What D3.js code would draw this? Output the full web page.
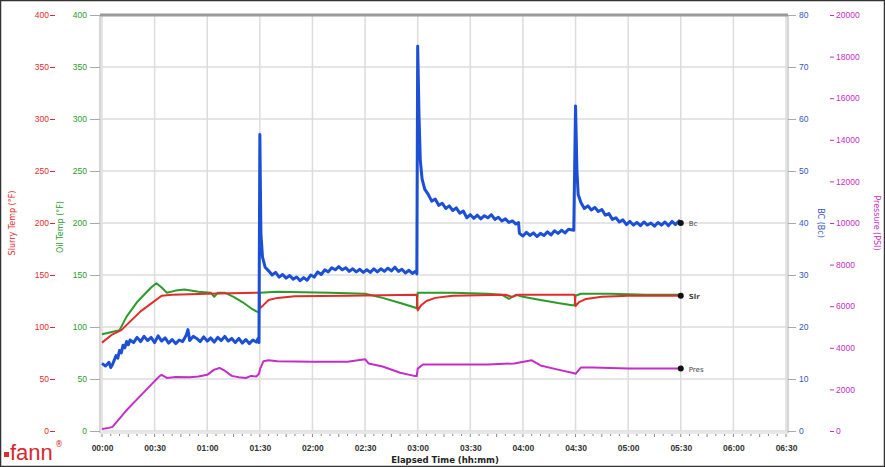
<!DOCTYPE html>
<html>
<head>
<meta charset="utf-8">
<script src="https://cdn.jsdelivr.net/npm/d3@7"></script>
<style>
  html, body { margin: 0; padding: 0; background: #fff; }
  svg { display: block; font-family: "DejaVu Sans", sans-serif; }
</style>
</head>
<body>
<div id="chart"></div>
<script>
// Data (minutes from start)
const bcTime = [0,2,4,5,6,8,9,10,11,12,13,14,15,16,18,20,22,24,26,28,30,32,34,36,38,40,42,44,46,48,49,50,52,54,56,58,60,62,64,66,68,70,72,74,76,78,80,82,84,86,88,89,89.5,
  90,90.6,91.5,93,95,97,99,101,103,105,107,109,111,113,115,117,119,121,123,125,127,129,131,133,135,137,139,141,143,145,147,149,151,153,155,157,159,161,163,165,167,169,171,173,175,177,179,179.5,
  180,180.8,181.5,182.5,184,186,188,190,192,194,196,198,200,202,204,206,208,210,212,214,216,218,220,222,224,226,228,230,232,234,236,237.5,238,240,242,244,246,248,250,252,254,256,258,260,262,264,266,269,
  270,270.8,271.5,273,275,277,279,281,283,285,287,289,291,293,295,297,299,301,303,305,307,309,311,313,315,317,319,321,323,325,327,329,330];
const bcValues = [13,12.5,13.2,12.2,12.8,14.5,14,15.5,15,16.5,16,17.2,16.6,17.5,17,18,17.2,18.2,17.4,18,17,18.3,17.3,17.9,16.9,17.6,16.8,17.5,17.2,18.4,19.5,17.4,18.2,17.8,17.2,18.1,17.3,17.9,17.1,18,17.4,18.2,17.3,17.8,17,17.8,16.9,17.6,16.8,17.5,17.1,17.8,17,
  57,38,33.5,31.5,30.8,30,30.5,29.6,30.1,29.4,29.9,29.2,29.6,28.9,29.5,29,30,29.6,30.6,30.1,31,30.6,31.4,31,31.6,31,31.4,30.7,31.2,30.6,31.1,30.5,31,30.5,31.2,30.6,31.2,30.7,31.3,30.8,31.5,30.7,31.1,30.4,30.9,30.3,30.8,30.2,
  74,60,52,48.5,46.5,45.5,44.2,44.6,43.4,43.8,42.8,43.3,42.4,42.9,41.9,42.3,41,41.6,40.9,41.5,40.8,41.4,41,41.6,40.7,41.1,40.4,40.8,40.1,40.4,39.8,40.1,38,37.5,38.2,37.6,38.1,37.4,38,37.6,38.3,37.7,38.5,38,38.6,38.1,38.8,38.6,
  62.5,50,45.5,44,42.8,43.3,42.5,43,42.2,42.6,41.5,41.8,40.7,41,40.2,40.6,39.7,40.3,39.6,40.1,39.5,40.2,39.6,40,39.4,40.1,39.6,40.2,39.5,40.3,39.7,40.4,40];

const slurryTime = [0,6,11,22,34,40,60,89.5,90,92,95,100,110,140,179.5,180,182,185,190,200,230,234,237,269.5,270,272,276,285,300,330];
const slurryValues = [85,93,97,115,130,131,132,133,118,121,126,128,129.5,130,131,116,121,125,128,130,131,129,131,131,120,124,127,129,130,130];

const oilTime = [0,5,10,14,20,28,31,34,37,42,47,55,62,64,66,70,75,80,85,88,89.5,90,100,130,150,155,160,170,178,179.5,180,200,220,228,232,236,240,250,260,268,269.5,270,273,290,310,330];
const oilValues = [93,95,97,110,124,138,142,138,133,135,136,134,133,129,133,133,129,124,118,115,114,133,134,133,132,130,128,123,119,118,133,133,132,131,127,131,129,126,123,121,121,130,132,132,131,131];

const presTime = [0,4,6,8,10,14,18,22,26,30,33,34,37,42,50,55,60,64,67,70,74,78,82,85,88,89.5,90,92,95,100,120,140,150,152,160,170,178,179.5,180,183,190,220,235,245,250,260,268,270,273,280,300,330];
const presValues = [100,150,200,400,600,1000,1350,1700,2050,2400,2650,2700,2550,2600,2580,2620,2700,2950,3030,2900,2650,2580,2550,2650,2620,2750,2950,3350,3400,3350,3330,3330,3450,3250,3100,2800,2650,2650,3000,3200,3200,3200,3250,3400,3150,2950,2800,2750,3050,3050,3000,3000];

const timeTicks = d3.range(0, 391, 30);
const tempTicks = d3.range(0, 401, 50);
const bcTicks = d3.range(0, 81, 10);
const presTicks = d3.range(0, 20001, 2000);

const endLabels = ["Bc", "Slr", "Pres"];

// Layout
const W = 885, H = 467;
const plot = { left: 102, right: 786, top: 15, bottom: 431 };

const colors = { slurry: "#e32b2b", oil: "#2b9a2b", bc: "#1a4fd6", pres: "#c42ec4", grid: "#dcdcdc", text: "#333" };

const svg = d3.select("#chart").append("svg")
  .attr("width", W)
  .attr("height", H);

svg.append("rect").attr("width", W).attr("height", H).style("fill", "#fff");

// Scales
const x = d3.scaleLinear().domain([0, 390]).range([plot.left, plot.right]);
const yTemp = d3.scaleLinear().domain([0, 400]).range([plot.bottom, plot.top]);
const yBc = d3.scaleLinear().domain([0, 80]).range([plot.bottom, plot.top]);
const yPres = d3.scaleLinear().domain([0, 20000]).range([plot.bottom, plot.top]);

// Grid
const grid = svg.append("g");
grid.selectAll("line.v").data(timeTicks).join("line")
  .attr("x1", d => x(d)).attr("x2", d => x(d))
  .attr("y1", plot.top).attr("y2", plot.bottom)
  .style("stroke", colors.grid).style("stroke-width", 1.5);
grid.selectAll("line.h").data(tempTicks).join("line")
  .attr("x1", plot.left).attr("x2", plot.right + 2)
  .attr("y1", d => yTemp(d)).attr("y2", d => yTemp(d))
  .style("stroke", colors.grid).style("stroke-width", 1.5);

// Axis lines
svg.append("line").attr("x1", plot.left - 2).attr("x2", plot.left - 2)
  .attr("y1", plot.top).attr("y2", plot.bottom + 2).style("stroke", "#c8c8c8").style("stroke-width", 1.5);
svg.append("line").attr("x1", plot.right + 2).attr("x2", plot.right + 2)
  .attr("y1", plot.top).attr("y2", plot.bottom + 2).style("stroke", "#c8c8c8").style("stroke-width", 1.5);
svg.append("line").attr("x1", plot.left - 2).attr("x2", plot.right + 2)
  .attr("y1", plot.bottom + 2).attr("y2", plot.bottom + 2).style("stroke", "#d0d0d0").style("stroke-width", 1);
// Grey top band
svg.append("line").attr("x1", plot.left - 2).attr("x2", plot.right + 2)
  .attr("y1", plot.top).attr("y2", plot.top).style("stroke", "#9a9a9a").style("stroke-width", 3);

// X axis
const fmtTime = m => d3.format("02")(Math.floor(m / 60)) + ":" + d3.format("02")(m % 60);
const xAxis = svg.append("g")
  .attr("transform", `translate(0,${plot.bottom + 2})`)
  .call(d3.axisBottom(x).tickValues(timeTicks).tickFormat(fmtTime).tickSize(0).tickPadding(12));
xAxis.select(".domain").remove();
xAxis.selectAll("text").style("font-size", "8.5px").style("font-weight", "bold").style("fill", colors.text);
svg.append("g").selectAll("line").data(d3.range(0, 391, 5)).join("line")
  .attr("x1", d => x(d)).attr("x2", d => x(d))
  .attr("y1", plot.bottom + 3).attr("y2", d => plot.bottom + (d % 15 === 0 ? 6 : 5))
  .style("stroke", "#888").style("stroke-width", 1);
svg.append("text").attr("x", 445).attr("y", 463).attr("text-anchor", "middle")
  .style("font-size", "8.5px").style("font-weight", "bold").style("fill", "#222")
  .text("Elapsed Time (hh:mm)");

// Left axes
function styleAxis(g, color) {
  g.select(".domain").remove();
  g.selectAll("text").style("font-size", "8.5px").style("fill", color);
  g.selectAll("line").style("stroke", color);
}
const redAxis = svg.append("g").attr("transform", "translate(52,0)")
  .call(d3.axisLeft(yTemp).tickValues(tempTicks).tickSize(-5).tickPadding(12));
styleAxis(redAxis, colors.slurry);
redAxis.selectAll("text").attr("x", -3);
redAxis.selectAll("line").attr("x2", -2).attr("x1", 3);

const greenAxis = svg.append("g").attr("transform", `translate(${plot.left - 2},0)`)
  .call(d3.axisLeft(yTemp).tickValues(tempTicks).tickSize(10).tickPadding(3));
styleAxis(greenAxis, colors.oil);
greenAxis.selectAll("line").style("stroke", "#aaa");

svg.append("text").attr("transform", `translate(15,${(plot.top + plot.bottom) / 2}) rotate(-90)`)
  .attr("text-anchor", "middle").style("font-size", "8px").style("fill", colors.slurry)
  .text("Slurry Temp (°F)");
svg.append("text").attr("transform", `translate(63,${(plot.top + plot.bottom) / 2 + 4}) rotate(-90)`)
  .attr("text-anchor", "middle").style("font-size", "8px").style("fill", colors.oil)
  .text("Oil Temp (°F)");

// Right axes
const bcAxis = svg.append("g").attr("transform", `translate(${plot.right + 2},0)`)
  .call(d3.axisRight(yBc).tickValues(bcTicks).tickSize(8).tickPadding(3));
styleAxis(bcAxis, "#3a56c0");
bcAxis.selectAll("line").style("stroke", "#aaa");

const presAxis = svg.append("g").attr("transform", "translate(830,0)")
  .call(d3.axisRight(yPres).tickValues(presTicks).tickFormat(d3.format("d")).tickSize(4).tickPadding(2));
styleAxis(presAxis, colors.pres);

svg.append("text").attr("transform", `translate(818,${(plot.top + plot.bottom) / 2}) rotate(90)`)
  .attr("text-anchor", "middle").style("font-size", "8px").style("fill", "#3a56c0")
  .text("BC (Bc)");
svg.append("text").attr("transform", `translate(874,${(plot.top + plot.bottom) / 2}) rotate(90)`)
  .attr("text-anchor", "middle").style("font-size", "8px").style("fill", colors.pres)
  .text("Pressure (PSI)");

// Series
function series(times, values, yScale, color, width) {
  const pts = times.map((t, i) => [t, values[i]]);
  svg.append("path").datum(pts)
    .attr("d", d3.line().x(d => x(d[0])).y(d => yScale(d[1])))
    .style("fill", "none").style("stroke", color).style("stroke-width", width)
    .style("stroke-linejoin", "round");
  return pts[pts.length - 1];
}
const presEnd = series(presTime, presValues, yPres, colors.pres, 2);
const oilEnd = series(oilTime, oilValues, yTemp, colors.oil, 2);
const slurryEnd = series(slurryTime, slurryValues, yTemp, colors.slurry, 2);
const bcEnd = series(bcTime, bcValues, yBc, colors.bc, 3);

// End markers and labels
const ends = [
  { p: bcEnd, y: yBc, label: endLabels[0], bold: false },
  { p: slurryEnd, y: yTemp, label: endLabels[1], bold: true },
  { p: presEnd, y: yPres, label: endLabels[2], bold: false }
];
ends.forEach(e => {
  svg.append("circle").attr("cx", x(e.p[0])).attr("cy", e.y(e.p[1])).attr("r", 3).style("fill", "#111");
  svg.append("text").attr("x", x(e.p[0]) + 8).attr("y", e.y(e.p[1]) + 3)
    .style("font-size", "7px").style("font-weight", e.bold ? "bold" : "normal").style("fill", "#444")
    .text(e.label);
});

// Logo
svg.append("rect").attr("x", 4).attr("y", 452).attr("width", 5).attr("height", 5).style("fill", colors.slurry);
svg.append("text").attr("x", 10).attr("y", 460)
  .style("font-family", "'Liberation Sans', Arial, sans-serif").style("font-size", "22px").style("fill", "#d9262b")
  .text("fann");
svg.append("text").attr("x", 55).attr("y", 447).style("font-size", "8px").style("fill", "#d9262b").text("®");

// Frame
svg.append("rect").attr("x", 0.5).attr("y", 0.5).attr("width", W - 1).attr("height", H - 1)
  .style("fill", "none").style("stroke", "#333").style("stroke-width", 1.5);
</script>
</body>
</html>
